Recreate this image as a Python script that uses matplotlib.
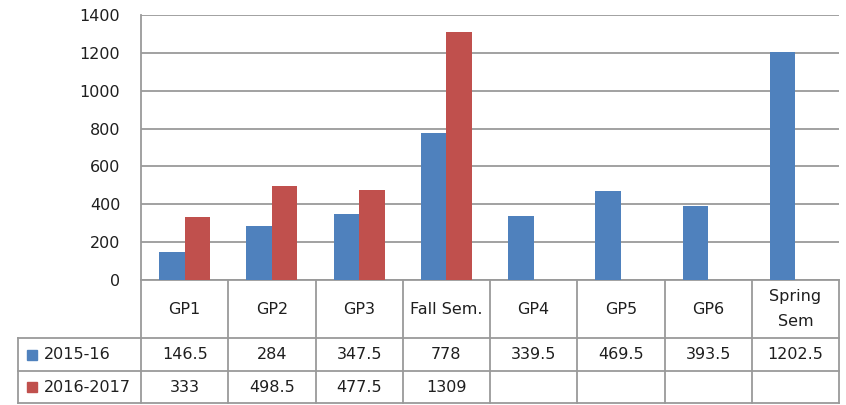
import numpy as np
import matplotlib
matplotlib.use('Agg')
import matplotlib.pyplot as plt

# chart data
categories = ['GP1', 'GP2', 'GP3', 'Fall Sem.', 'GP4', 'GP5', 'GP6', 'Spring\nSem']
series_names = ['2015-16', '2016-2017']
vals_2015 = [146.5, 284, 347.5, 778, 339.5, 469.5, 393.5, 1202.5]
vals_2016 = [333, 498.5, 477.5, 1309, np.nan, np.nan, np.nan, np.nan]
colors = ['#4F81BD', '#C0504D']
yticks = [0, 200, 400, 600, 800, 1000, 1200, 1400]

plt.rcParams['font.family'] = 'DejaVu Sans'
TXT = '#1F1F1F'
LINE = '#9A9A9A'
FS = 11.5

W, H = 846, 405
fig = plt.figure(figsize=(W / 100, H / 100), dpi=100)

# plot area and data table area (pixel layout of the reference)
left_px, right_px = 141, 839
top_px, zero_px, bottom_px = 15, 280, 403
ax = fig.add_axes([left_px / W, (H - zero_px) / H, (right_px - left_px) / W, (zero_px - top_px) / H])
tax = fig.add_axes([left_px / W, (H - bottom_px) / H, (right_px - left_px) / W, (bottom_px - zero_px) / H])

x = np.arange(len(categories))
bw = 0.292
ax.bar(x - bw / 2, vals_2015, bw, color=colors[0], zorder=3)
ax.bar(x + bw / 2, vals_2016, bw, color=colors[1], zorder=3)

ax.set_xlim(-0.5, len(categories) - 0.5)
ax.set_ylim(0, 1400)
ax.set_yticks(yticks)
ax.set_xticks([])
ax.tick_params(axis='y', length=0, pad=15, labelsize=FS, labelcolor=TXT)
ax.grid(axis='y', color=LINE, linewidth=1.3, zorder=0)
for s in ['top', 'right']:
    ax.spines[s].set_visible(False)
for s in ['left', 'bottom']:
    ax.spines[s].set_color(LINE)
    ax.spines[s].set_linewidth(1.3)

# data table below the chart
col_px = (right_px - left_px) / len(categories)
x_lab = -0.5 - (left_px - 18) / col_px
rows = [0, 58, 91, 123]
tax.set_xlim(ax.get_xlim())
tax.set_ylim(rows[-1], 0)
tax.axis('off')

kw = dict(color=LINE, linewidth=1.3, clip_on=False)
for b in np.arange(len(categories) + 1) - 0.5:
    tax.plot([b, b], [rows[0], rows[-1]], **kw)
tax.plot([x_lab, x_lab], [rows[1], rows[-1]], **kw)
for r in rows[1:]:
    tax.plot([x_lab, len(categories) - 0.5], [r, r], **kw)

for i, c in enumerate(categories):
    tax.text(i, (rows[0] + rows[1]) / 2, c, ha='center', va='center',
             fontsize=FS, color=TXT, linespacing=1.75)

for k, (name, vals) in enumerate(zip(series_names, [vals_2015, vals_2016])):
    yc = (rows[k + 1] + rows[k + 2]) / 2
    tax.plot([x_lab + 14 / col_px], [yc], marker='s', markersize=7,
             color=colors[k], linestyle='none', clip_on=False)
    tax.text(x_lab + 26 / col_px, yc, name, ha='left', va='center',
             fontsize=FS, color=TXT)
    for i, v in enumerate(vals):
        if not np.isnan(v):
            tax.text(i, yc, f'{v:g}', ha='center', va='center', fontsize=FS, color=TXT)

fig.savefig('out.png', dpi=100)
